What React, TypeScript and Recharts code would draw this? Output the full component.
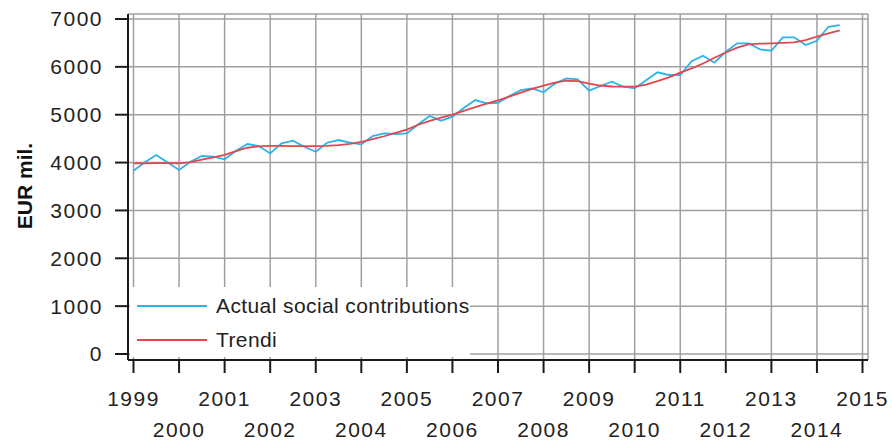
import React from 'react';
import { LineChart, Line, XAxis, YAxis, CartesianGrid } from 'recharts';

const FONT = '"Liberation Sans", Arial, sans-serif';
const TEXT = '#222';
const AXIS = '#1a1a1a';
const BLUE = '#2ab4ea';
const RED = '#e2474f';

const years = [1999, 2000, 2001, 2002, 2003, 2004, 2005, 2006, 2007, 2008, 2009, 2010, 2011, 2012, 2013, 2014, 2015];
const yTicks = [0, 1000, 2000, 3000, 4000, 5000, 6000, 7000];

// quarterly, 1999Q1 .. 2014Q3
const actual = [
  3830, 4005, 4158, 4000,
  3845, 4018, 4137, 4123,
  4068, 4248, 4388, 4346,
  4190, 4401, 4457, 4331,
  4227, 4415, 4471, 4415,
  4381, 4555, 4611, 4597,
  4610, 4800, 4975, 4875,
  4958, 5140, 5307, 5238,
  5250, 5390, 5516, 5551,
  5468, 5650, 5760, 5740,
  5502, 5600, 5690, 5585,
  5550, 5720, 5886, 5830,
  5830, 6120, 6233, 6087,
  6316, 6492, 6492, 6366,
  6337, 6617, 6617, 6456,
  6546, 6838, 6874,
];

const trend = [
  3985, 3985, 3990, 3990,
  3985, 4010, 4060, 4110,
  4160, 4240, 4310, 4340,
  4350, 4350, 4345, 4345,
  4345, 4350, 4365, 4390,
  4430, 4490, 4550, 4620,
  4690, 4790, 4870, 4940,
  5000, 5080, 5160, 5230,
  5300, 5380, 5460, 5540,
  5610, 5670, 5710, 5700,
  5650, 5610, 5590, 5585,
  5585, 5630, 5700, 5780,
  5880, 5970, 6070, 6190,
  6300, 6400, 6470, 6485,
  6490, 6500, 6510, 6560,
  6630, 6700, 6760,
];

const data = actual.map((v, i) => ({ t: years[0] + i / 4, actual: v, trend: trend[i] }));

const YearTick = ({ x, y, payload }: any) => {
  const lower = (payload.value - years[0]) % 2 === 1;
  return (
    <text
      x={x}
      y={y + (lower ? 56 : 25)}
      textAnchor="middle"
      dominantBaseline="central"
      fontSize={21}
      letterSpacing={1.5}
      fontFamily={FONT}
      fill={TEXT}
    >
      {payload.value}
    </text>
  );
};

const YLabel = () => (
  <text
    x={24}
    y={186}
    transform="rotate(-90, 24, 186)"
    textAnchor="middle"
    dominantBaseline="central"
    fontSize={21}
    fontWeight="bold"
    fontFamily={FONT}
    fill="#111"
  >
    EUR mil.
  </text>
);

const legendItems = [
  { name: 'Actual social contributions', color: BLUE, top: 19 },
  { name: 'Trendi', color: RED, top: 53 },
];

export default function App() {
  return (
    <div style={{ position: 'absolute', left: 0, top: 0, width: 892, height: 443, background: '#fff' }}>
      <LineChart width={892} height={443} data={data} margin={{ top: 14, right: 24, left: 0, bottom: 0 }}>
        <CartesianGrid stroke="#a0a0a0" strokeWidth={1.5} />
        <XAxis
          dataKey="t"
          type="number"
          domain={[1999, 2015]}
          ticks={years}
          interval={0}
          padding={{ left: 5.5, right: 5.5 }}
          height={83}
          tickSize={13}
          tickMargin={0}
          axisLine={{ stroke: AXIS, strokeWidth: 2 }}
          tickLine={{ stroke: AXIS, strokeWidth: 2 }}
          tick={<YearTick />}
        />
        <XAxis
          xAxisId="top"
          orientation="top"
          dataKey="t"
          type="number"
          domain={[1999, 2015]}
          height={0}
          tick={false}
          tickLine={false}
          axisLine={{ stroke: AXIS, strokeWidth: 2.5 }}
        />
        <YAxis
          type="number"
          domain={[0, 7000]}
          ticks={yTicks}
          interval={0}
          padding={{ top: 5, bottom: 6 }}
          width={128}
          tickSize={13}
          tickMargin={12}
          axisLine={{ stroke: AXIS, strokeWidth: 2 }}
          tickLine={{ stroke: AXIS, strokeWidth: 2 }}
          tick={{ fontSize: 21, fill: TEXT, fontFamily: FONT, letterSpacing: 1.5 }}
          label={<YLabel />}
        />
        <YAxis
          yAxisId="right"
          orientation="right"
          type="number"
          domain={[0, 7000]}
          width={0}
          tick={false}
          tickLine={false}
          axisLine={{ stroke: AXIS, strokeWidth: 2 }}
        />
        <Line
          type="linear"
          dataKey="actual"
          stroke={BLUE}
          strokeWidth={1.8}
          dot={false}
          isAnimationActive={false}
        />
        <Line
          type="linear"
          dataKey="trend"
          stroke={RED}
          strokeWidth={1.8}
          dot={false}
          isAnimationActive={false}
        />
      </LineChart>
      <div
        style={{
          position: 'absolute',
          left: 130,
          top: 287,
          width: 340,
          height: 70,
          background: '#fff',
          fontFamily: FONT,
          fontSize: 21,
          color: TEXT,
        }}
      >
        {legendItems.map((item) => (
          <div key={item.name} style={{ position: 'absolute', left: 0, top: item.top - 12, height: 24, width: 340 }}>
            <div style={{ position: 'absolute', left: 7, top: 11, width: 70, height: 2, background: item.color }} />
            <div style={{ position: 'absolute', left: 86, top: 0, lineHeight: '24px', letterSpacing: 0.4, whiteSpace: 'nowrap' }}>
              {item.name}
            </div>
          </div>
        ))}
      </div>
    </div>
  );
}
